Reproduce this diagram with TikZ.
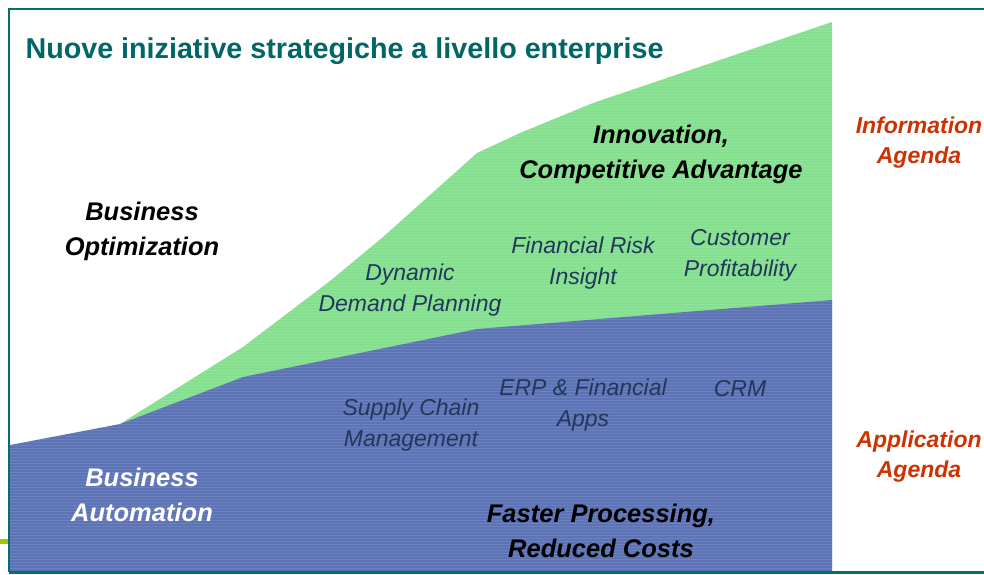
\documentclass[tikz,border=0pt]{standalone}
\usepackage{fontspec}
\setmainfont{Liberation Sans}
\usepackage{xcolor}
\usepackage{tikz}
\usetikzlibrary{positioning}

\definecolor{titleteal}{RGB}{0,102,102}
\definecolor{framecol}{RGB}{0,112,112}
\definecolor{infogreen}{RGB}{132,224,142}
\definecolor{appblue}{RGB}{92,115,182}
\definecolor{agendared}{RGB}{204,51,0}
\definecolor{navytext}{RGB}{35,55,92}
\definecolor{limebar}{RGB}{160,200,0}

\begin{document}
\begin{tikzpicture}[x=1pt, y=-1pt,
    big/.style={font=\fontsize{25.5}{35}\selectfont\bfseries\itshape, align=center},
    small/.style={font=\fontsize{23}{31}\selectfont\itshape, text=navytext, align=center},
    agenda/.style={font=\fontsize{23}{30}\selectfont\bfseries\itshape, text=agendared, align=center}]
    \useasboundingbox (0,0) rectangle (984,574);

    % Areas
    \fill[infogreen] (120,424) -- (243,347) -- (330,281) -- (383,237) -- (477,153)
        -- (520,133) -- (593,103) -- (832,22) -- (832,572) -- (120,572) -- cycle;
    \fill[appblue] (10,445) -- (120,424) -- (243,377) -- (477,329) -- (832,300)
        -- (832,572) -- (10,572) -- cycle;
    \begin{scope}
        \clip (10,445) -- (120,424) -- (243,347) -- (330,281) -- (383,237) -- (477,153)
            -- (520,133) -- (593,103) -- (832,22) -- (832,572) -- (10,572) -- cycle;
        \foreach \y in {22,25,...,572}
            \draw[white, opacity=0.1, line width=0.8] (10,\y) -- (832,\y);
    \end{scope}

    % Frame
    \draw[framecol, line width=2] (984,9) -- (9,9) -- (9,572);
    \draw[framecol, line width=3] (9,572) -- (984,572);
    \draw[limebar, line width=5] (0,541) -- (8,541);

    % Labels
    \node[anchor=west, text=titleteal, font=\fontsize{28.7}{30}\selectfont\bfseries] (title) at (22,51)
        {Nuove iniziative strategiche a livello enterprise};
    \node[big] (bizopt) at (142,231) {Business\\Optimization};
    \node[big] (innov) at (661,154) {Innovation,\\Competitive Advantage};
    \node[agenda] (infoagenda) at (919,143) {Information\\Agenda};
    \node[agenda] (appagenda) at (919,457) {Application\\Agenda};
    \node[small] (dynplan) at (410,290) {Dynamic\\Demand Planning};
    \node[small] (finrisk) at (583,263) {Financial Risk\\Insight};
    \node[small] (custprof) at (740,255) {Customer\\Profitability};
    \node[small] (supply) at (411,425) {Supply Chain\\Management};
    \node[small] (erp) at (583,405) {ERP \& Financial\\Apps};
    \node[small] (crm) at (740,389) {CRM};
    \node[big, text=white] (bizauto) at (142,495) {Business\\Automation};
    \node[big] (faster) at (601,531) {Faster Processing,\\Reduced Costs};
\end{tikzpicture}
\end{document}
